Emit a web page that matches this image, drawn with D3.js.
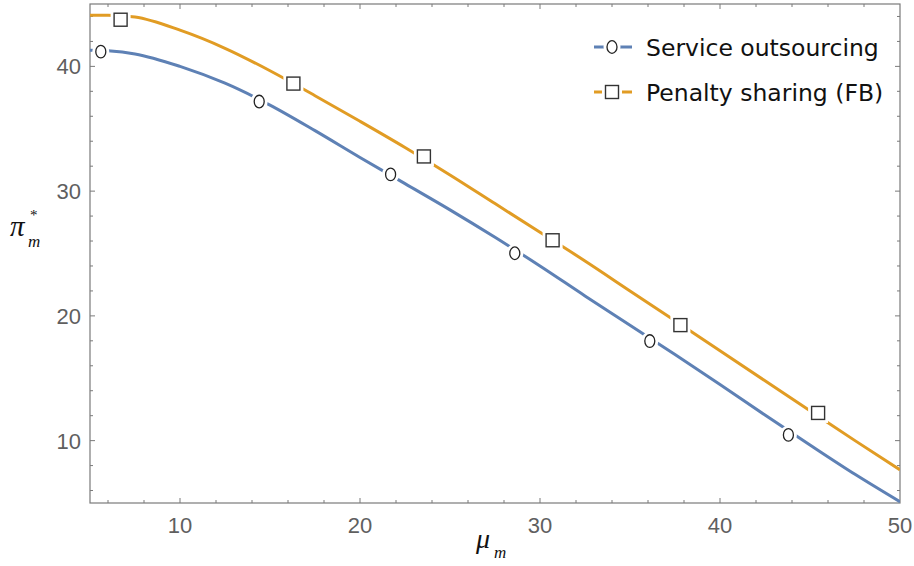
<!DOCTYPE html>
<html><head><meta charset="utf-8">
<script src="https://cdn.jsdelivr.net/npm/d3@7"></script>
<style>body{margin:0;background:#fff}svg{display:block}</style>
</head><body>
<svg id="c" width="914" height="566"></svg>
<script>
const xs = [5, 6, 7.5, 10, 12.5, 15, 17.5, 20, 22.5, 25, 27.5, 30, 32.5, 35, 37.5, 40, 42.5, 45, 47.5, 50];
const serviceY = [41.3, 41.25, 41.0, 40.0, 38.65, 36.9, 34.85, 32.7, 30.6, 28.5, 26.3, 24.0, 21.6, 19.25, 16.9, 14.5, 12.05, 9.65, 7.3, 5.1];
const penaltyY = [44.1, 44.1, 43.95, 42.9, 41.45, 39.65, 37.65, 35.6, 33.5, 31.3, 29.0, 26.7, 24.4, 22.0, 19.6, 17.2, 14.8, 12.4, 10.0, 7.66];
const serviceMarkX = [5.6, 14.4, 21.7, 28.6, 36.1, 43.8];
const serviceMarkY = [41.18, 37.18, 31.34, 25.02, 17.98, 10.46];
const penaltyMarkX = [6.7, 16.3, 23.55, 30.7, 37.8, 45.45];
const penaltyMarkY = [43.74, 38.62, 32.78, 26.06, 19.26, 12.22];
const xTicks = [10, 20, 30, 40, 50];
const yTicks = [10, 20, 30, 40];
const seriesNames = ["Service outsourcing", "Penalty sharing (FB)"];

const svg = d3.select("#c");
const L = 90, R = 900, T = 4, B = 503;
const x = d3.scaleLinear().domain([5, 50]).range([L, R]);
const y = d3.scaleLinear().domain([5, 45]).range([B, T]);
const blue = "#5E81B5", orange = "#E19C24", frameC = "#7a7a7a", labC = "#5f5f5f";

svg.append("defs").append("clipPath").attr("id", "clip")
  .append("rect").attr("x", L).attr("y", T).attr("width", R - L).attr("height", B - T);

svg.append("rect").attr("x", L).attr("y", T).attr("width", R - L).attr("height", B - T)
  .attr("fill", "none").attr("stroke", frameC).attr("stroke-width", 1.2);

const minorX = d3.range(6, 50, 2);
const minorY = d3.range(6, 45, 2);
const tg = svg.append("g").attr("stroke", frameC).attr("stroke-width", 1);
minorX.forEach(v => {
  const len = v % 10 === 0 ? 5 : 3;
  tg.append("line").attr("x1", x(v)).attr("x2", x(v)).attr("y1", B).attr("y2", B - len);
  tg.append("line").attr("x1", x(v)).attr("x2", x(v)).attr("y1", T).attr("y2", T + len);
});
minorY.forEach(v => {
  const len = v % 10 === 0 ? 5 : 3;
  tg.append("line").attr("y1", y(v)).attr("y2", y(v)).attr("x1", L).attr("x2", L + len);
  tg.append("line").attr("y1", y(v)).attr("y2", y(v)).attr("x1", R).attr("x2", R - len);
});

xTicks.forEach(v => {
  svg.append("text").attr("x", x(v)).attr("y", 533).attr("text-anchor", "middle")
    .attr("font-family", "Liberation Sans, Arial, sans-serif").attr("font-size", 22)
    .attr("fill", labC).text(v);
});
yTicks.forEach(v => {
  svg.append("text").attr("x", 81).attr("y", y(v) + 8).attr("text-anchor", "end")
    .attr("font-family", "Liberation Sans, Arial, sans-serif").attr("font-size", 22)
    .attr("fill", labC).text(v);
});

const line = d3.line().x(d => x(d[0])).y(d => y(d[1])).curve(d3.curveMonotoneX);
const plot = svg.append("g").attr("clip-path", "url(#clip)");
plot.append("path").datum(xs.map((v, i) => [v, serviceY[i]])).attr("d", line)
  .attr("fill", "none").attr("stroke", blue).attr("stroke-width", 3);
plot.append("path").datum(xs.map((v, i) => [v, penaltyY[i]])).attr("d", line)
  .attr("fill", "none").attr("stroke", orange).attr("stroke-width", 3);

function circleMark(g, cx, cy) {
  g.append("ellipse").attr("cx", cx).attr("cy", cy).attr("rx", 5.5).attr("ry", 6.5)
    .attr("fill", "#fff").attr("stroke", "#fff").attr("stroke-width", 6);
  g.append("ellipse").attr("cx", cx).attr("cy", cy).attr("rx", 5).attr("ry", 6.3)
    .attr("fill", "#fff").attr("stroke", "#222").attr("stroke-width", 1.3);
}
function squareMark(g, cx, cy) {
  g.append("rect").attr("x", cx - 7).attr("y", cy - 7).attr("width", 14).attr("height", 14)
    .attr("fill", "#fff").attr("stroke", "#fff").attr("stroke-width", 6);
  g.append("rect").attr("x", cx - 6.5).attr("y", cy - 6.5).attr("width", 13).attr("height", 13)
    .attr("fill", "#fff").attr("stroke", "#333").attr("stroke-width", 1.4);
}
const mk = svg.append("g");
serviceMarkX.forEach((v, i) => circleMark(mk, x(v), y(serviceMarkY[i])));
penaltyMarkX.forEach((v, i) => squareMark(mk, x(v), y(penaltyMarkY[i])));

const lg = svg.append("g");
const legRows = [47, 92];
[blue, orange].forEach((c, i) => {
  lg.append("line").attr("x1", 594).attr("x2", 632).attr("y1", legRows[i]).attr("y2", legRows[i])
    .attr("stroke", c).attr("stroke-width", 3);
  if (i === 0) circleMark(lg, 612, legRows[i]); else squareMark(lg, 612, legRows[i]);
  lg.append("text").attr("x", 646).attr("y", legRows[i] + 8.5)
    .attr("font-family", "DejaVu Sans, Verdana, sans-serif").attr("font-size", 23.5)
    .attr("fill", "#111").text(seriesNames[i]);
});

const yl = svg.append("text").attr("font-family", "Liberation Serif, serif").attr("font-style", "italic").attr("fill", "#111");
yl.append("tspan").attr("x", 10).attr("y", 236).attr("font-size", 29).text("π");
yl.append("tspan").attr("x", 28).attr("y", 247).attr("font-size", 17).text("m");
svg.append("text").attr("x", 30).attr("y", 220).attr("font-family", "Liberation Serif, serif")
  .attr("font-size", 15).attr("fill", "#111").text("*");
const xl = svg.append("text").attr("font-family", "Liberation Serif, serif").attr("font-style", "italic").attr("fill", "#111");
xl.append("tspan").attr("x", 476).attr("y", 548).attr("font-size", 28).text("μ");
xl.append("tspan").attr("x", 494).attr("y", 558).attr("font-size", 17).text("m");
</script>
</body></html>
